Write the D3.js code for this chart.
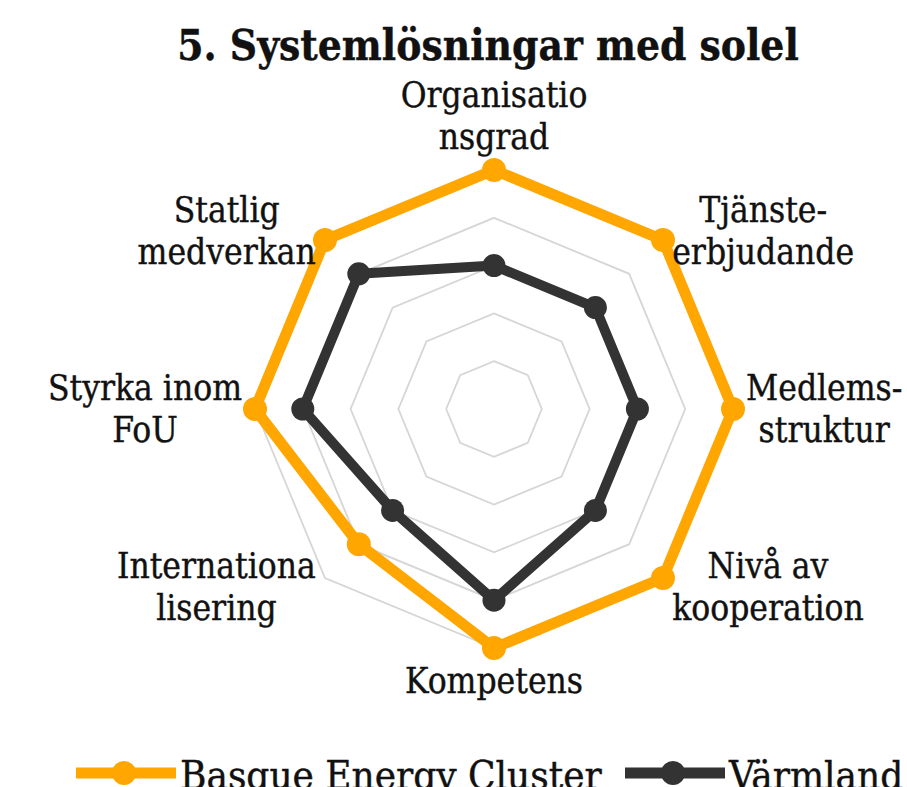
<!DOCTYPE html>
<html>
    <head>
        <meta charset="utf-8">
        <script src="https://d3js.org/d3.v7.min.js"></script>
        <style>
            body {
                margin: 0;
                overflow: hidden;
                background: #fff;
            }
            text {
                font-family: 'DejaVu Serif', Georgia, serif;
                font-stretch: condensed;
                fill: #111;
                stroke: #111;
                stroke-width: 0.4px;
            }
            .grid {
                fill: none;
                stroke: #d6d6d6;
                stroke-width: 1.8px;
            }
        </style>
    </head>

    <body>
        <script>
            const title = '5. Systemlösningar med solel';
            const axes = [
                ['Organisatio', 'nsgrad'],
                ['Tjänste-', 'erbjudande'],
                ['Medlems-', 'struktur'],
                ['Nivå av', 'kooperation'],
                ['Kompetens'],
                ['Internationa', 'lisering'],
                ['Styrka inom', 'FoU'],
                ['Statlig', 'medverkan']
            ];
            const seriesNames = ['Basque Energy Cluster', 'Värmland'];
            const basque = [5, 5, 5, 5, 5, 4, 5, 5];
            const varmland = [3, 3, 3, 3, 4, 3, 4, 4];
            const gridLevels = [1, 2, 3, 4, 5];
            const colors = ['#ffa600', '#333333'];

            const width = 907;
            const height = 787;
            const cx = 494;
            const cy = 409;

            const svg = d3.select('body').append('svg').attr('width', width).attr('height', height);

            const r = d3.scaleLinear().domain([0, 5]).range([0, 239]);
            const angle = d3
                .scaleLinear()
                .domain([0, axes.length])
                .range([0, 2 * Math.PI]);

            const g = svg.append('g').attr('transform', `translate(${cx},${cy})`);

            const radial = d3
                .lineRadial()
                .angle((d, i) => angle(i))
                .radius((d) => r(d))
                .curve(d3.curveLinearClosed);

            // grid rings
            g.selectAll('.grid')
                .data(gridLevels)
                .enter()
                .append('path')
                .attr('class', 'grid')
                .attr('d', (lv) => radial(axes.map(() => lv)));

            // series
            [basque, varmland].forEach((vals, s) => {
                g.append('path')
                    .attr('d', radial(vals))
                    .attr('fill', 'none')
                    .attr('stroke', colors[s])
                    .attr('stroke-width', s === 0 ? 11 : 10)
                    .attr('stroke-linejoin', 'round');
                g.selectAll(`.pt${s}`)
                    .data(vals)
                    .enter()
                    .append('circle')
                    .attr('cx', (d, i) => r(d) * Math.sin(angle(i)))
                    .attr('cy', (d, i) => -r(d) * Math.cos(angle(i)))
                    .attr('r', s === 0 ? 12 : 11.5)
                    .attr('fill', colors[s]);
            });

            // axis labels
            const labelR = 252;
            axes.forEach((lines, i) => {
                const a = angle(i);
                const sx = Math.sin(a);
                const sy = -Math.cos(a);
                const lab = g.append('g');
                const t = lab.append('text').attr('text-anchor', 'middle').style('font-size', '35px');
                t.selectAll('tspan')
                    .data(lines)
                    .enter()
                    .append('tspan')
                    .attr('x', 0)
                    .attr('y', (d, k) => k * 42)
                    .text((d) => d);
                const bb = t.node().getBBox();
                const px = labelR * sx;
                const py = labelR * sy;
                let dx, dy;
                if (Math.abs(sx) < 0.01) dx = px - (bb.x + bb.width / 2);
                else if (sx > 0) dx = px - bb.x;
                else dx = px - (bb.x + bb.width);
                if (Math.abs(sx) < 0.01 && sy < 0) dy = py - (bb.y + bb.height);
                else if (Math.abs(sx) < 0.01 && sy > 0) dy = py - bb.y;
                else dy = py - (bb.y + bb.height / 2);
                lab.attr('transform', `translate(${dx},${dy})`);
            });

            // title
            svg.append('text')
                .attr('x', 488)
                .attr('y', 60)
                .attr('text-anchor', 'middle')
                .style('font-size', '42px')
                .style('font-weight', 'bold')
                .text(title);

            // legend
            const legendX = [76, 625];
            seriesNames.forEach((name, s) => {
                const lg = svg.append('g').attr('transform', `translate(${legendX[s]},773)`);
                lg.append('line').attr('x1', 0).attr('x2', 100).attr('stroke', colors[s]).attr('stroke-width', 11);
                lg.append('circle').attr('cx', 48).attr('r', 12).attr('fill', colors[s]);
                lg.append('text').attr('x', 104).attr('y', 16).style('font-size', '40px').text(name);
            });
        </script>
    </body>
</html>
